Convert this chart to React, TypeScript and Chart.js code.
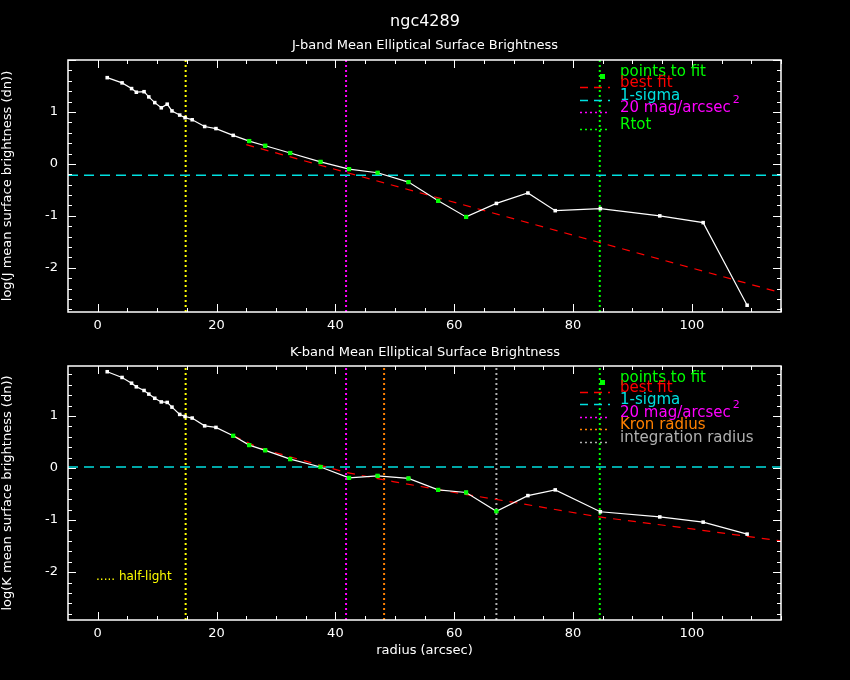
import React, { useEffect, useRef } from "react";
import { Chart, registerables } from "chart.js";
Chart.register(...registerables);

const radii = [1.6,4.1,5.7,6.5,7.8,8.6,9.6,10.7,11.7,12.5,13.8,14.7,15.9,18.0,19.9,22.8,25.5,28.2,32.4,37.5,42.3,47.1,52.3,57.3,62.0,67.1,72.4,77.0,84.6,94.6,101.9,109.3];
const jVals = [1.66,1.56,1.45,1.38,1.39,1.29,1.18,1.08,1.15,1.02,0.94,0.89,0.85,0.72,0.68,0.55,0.44,0.35,0.21,0.04,-0.10,-0.17,-0.35,-0.71,-1.02,-0.76,-0.56,-0.90,-0.86,-1.00,-1.13,-2.72];
const kVals = [1.85,1.74,1.63,1.56,1.49,1.42,1.34,1.27,1.26,1.17,1.03,0.99,0.96,0.81,0.78,0.62,0.44,0.34,0.17,0.02,-0.19,-0.15,-0.20,-0.42,-0.47,-0.83,-0.53,-0.42,-0.84,-0.94,-1.04,-1.27];
const jFitIdx = [16,17,18,19,20,21,22,23,24];
const kFitIdx = [15,16,17,18,19,20,21,22,23,24,25];
const jFitX = [25, 115];
const jFitY = [0.37, -2.48];
const kFitX = [22.8,27.3,37.5,42,49.7,60,70,84.4,100,115];
const kFitY = [0.62,0.38,0.05,-0.09,-0.26,-0.47,-0.66,-0.94,-1.17,-1.40];
const jSigma = -0.22;
const kSigma = 0.02;
const halfLight = 14.8;
const mag20 = 41.8;
const rtot = 84.5;
const kron = 48.2;
const integ = 67.1;
const xTicks = [0, 20, 40, 60, 80, 100];
const X_MIN = -5, X_MAX = 115;

const FONT = "'DejaVu Sans', sans-serif";

type Leg = { text: string; color: string; kind: "point" | "dash" | "dot"; y: number; sup?: boolean };

function framePlugin(opts: { title?: string; sub: string; subY: number; legend: Leg[]; legX: number }) {
  return {
    id: "frame",
    afterDraw(chart: any) {
      const ctx = chart.ctx;
      const a = chart.chartArea;
      const xs = chart.scales.x, ys = chart.scales.y;
      ctx.save();
      ctx.strokeStyle = "#fff";
      ctx.lineWidth = 1.5;
      ctx.strokeRect(a.left, a.top, a.right - a.left, a.bottom - a.top);
      ctx.lineWidth = 1;
      ctx.beginPath();
      for (let v = 0; v <= X_MAX; v += 5) {
        const px = Math.round(xs.getPixelForValue(v)) + 0.5;
        const L = v % 20 === 0 ? 8 : 4;
        ctx.moveTo(px, a.bottom); ctx.lineTo(px, a.bottom - L);
        ctx.moveTo(px, a.top); ctx.lineTo(px, a.top + L);
      }
      for (let i = -30; i <= 20; i++) {
        const v = i * 0.2;
        if (v < ys.min || v > ys.max) continue;
        const py = Math.round(ys.getPixelForValue(v)) + 0.5;
        const L = i % 5 === 0 ? 8 : 4;
        ctx.moveTo(a.left, py); ctx.lineTo(a.left + L, py);
        ctx.moveTo(a.right, py); ctx.lineTo(a.right - L, py);
      }
      ctx.stroke();
      ctx.fillStyle = "#fff";
      ctx.textAlign = "center";
      ctx.textBaseline = "middle";
      if (opts.title) { ctx.font = `16px ${FONT}`; ctx.fillText(opts.title, 425, 22); }
      ctx.font = `13px ${FONT}`;
      ctx.fillText(opts.sub, 425, opts.subY);
      ctx.textAlign = "left";
      for (const l of opts.legend) {
        ctx.fillStyle = l.color; ctx.strokeStyle = l.color;
        ctx.font = `15px ${FONT}`;
        ctx.fillText(l.text, opts.legX + 40, l.y);
        const x0 = opts.legX, x1 = opts.legX + 30;
        if (l.kind === "point") { ctx.fillRect(opts.legX + 20, l.y + 2, 5, 5); }
        else {
          ctx.beginPath();
          ctx.lineWidth = 1.5;
          ctx.setLineDash(l.kind === "dash" ? [8, 6] : [2, 3]);
          ctx.moveTo(x0, l.y + 4.5); ctx.lineTo(x1, l.y + 4.5); ctx.stroke();
          ctx.setLineDash([]);
        }
        if (l.sup) {
          const w = ctx.measureText(l.text).width;
          ctx.font = `11px ${FONT}`;
          ctx.fillText("2", opts.legX + 42 + w, l.y - 8);
        }
      }
      ctx.restore();
    },
  };
}

function vline(x: number, color: string, ymin: number, ymax: number) {
  return { type: "line", data: [{ x, y: ymin }, { x, y: ymax }], borderColor: color, borderWidth: 2, borderDash: [2, 3], pointRadius: 0, order: 5 };
}

function buildChart(canvas: HTMLCanvasElement, cfg: any) {
  const main = radii.map((x, i) => ({ x, y: cfg.vals[i] }));
  const green = cfg.fit.map((i: number) => ({ x: radii[i], y: cfg.vals[i] }));
  const datasets: any[] = [
    ...cfg.vlines.map(([x, c]: [number, string]) => vline(x, c, cfg.ymin, cfg.ymax)),
    { type: "line", data: [{ x: X_MIN, y: cfg.sigma }, { x: X_MAX, y: cfg.sigma }], borderColor: "#00e0e0", borderWidth: 1.5, borderDash: [10, 6], pointRadius: 0, order: 4 },
    { type: "line", data: cfg.fx.map((x: number, i: number) => ({ x, y: cfg.fy[i] })), borderColor: "#ff0000", borderWidth: 1.2, borderDash: [8, 7], pointRadius: 0, order: 3 },
    { type: "line", data: main, borderColor: "#fff", borderWidth: 1.2, pointStyle: "rect", pointRadius: 2.5, pointBackgroundColor: "#fff", pointBorderWidth: 0, order: 2 },
    { type: "scatter", data: green, pointStyle: "rect", pointRadius: 3, pointBackgroundColor: "#00ff00", pointBorderWidth: 0, order: 1 },
  ];
  return new Chart(canvas, {
    type: "line",
    data: { datasets },
    plugins: [cfg.plugin],
    options: {
      animation: false, responsive: false, maintainAspectRatio: false,
      layout: { padding: { top: cfg.padTop, right: 69, left: 0, bottom: 0 } },
      plugins: { legend: { display: false }, tooltip: { enabled: false } },
      scales: {
        x: {
          type: "linear", min: X_MIN, max: X_MAX,
          grid: { display: false }, border: { display: false },
          afterBuildTicks: (s: any) => { s.ticks = xTicks.map((v) => ({ value: v })); },
          ticks: { color: "#fff", font: { family: FONT, size: 13 }, padding: -2 },
          title: { display: cfg.showXTitle, text: "radius (arcsec)", color: "#fff", font: { family: FONT, size: 13 }, padding: { top: 4 } },
          afterFit: (s: any) => { s.height = cfg.xH; },
        },
        y: {
          type: "linear", min: cfg.ymin, max: cfg.ymax,
          grid: { display: false }, border: { display: false },
          afterBuildTicks: (s: any) => { s.ticks = [-2, -1, 0, 1].map((v) => ({ value: v })); },
          ticks: { color: "#fff", font: { family: FONT, size: 13 }, padding: 2 },
          title: { display: true, text: cfg.yLabel, color: "#fff", font: { family: FONT, size: 13 }, padding: 0 },
          afterFit: (s: any) => { s.width = 68; },
        },
      },
    } as any,
  } as any);
}

export default function App() {
  const r1 = useRef<HTMLCanvasElement>(null);
  const r2 = useRef<HTMLCanvasElement>(null);
  useEffect(() => {
    document.body.style.margin = "0";
    document.body.style.background = "#000";
    const legTop: Leg[] = [
      { text: "points to fit", color: "#00ff00", kind: "point", y: 72 },
      { text: "best fit", color: "#ff0000", kind: "dash", y: 83 },
      { text: "1-sigma", color: "#00e0e0", kind: "dash", y: 96 },
      { text: "20 mag/arcsec", color: "#ff00ff", kind: "dot", y: 108, sup: true },
      { text: "Rtot", color: "#00ff00", kind: "dot", y: 125 },
    ];
    const legBot: Leg[] = [
      { text: "points to fit", color: "#00ff00", kind: "point", y: 38 },
      { text: "best fit", color: "#ff0000", kind: "dash", y: 48 },
      { text: "1-sigma", color: "#00e0e0", kind: "dash", y: 60 },
      { text: "20 mag/arcsec", color: "#ff00ff", kind: "dot", y: 73, sup: true },
      { text: "Kron radius", color: "#ff8000", kind: "dot", y: 85 },
      { text: "integration radius", color: "#b0b0b0", kind: "dot", y: 98 },
    ];
    const c1 = buildChart(r1.current!, {
      vals: jVals, fit: jFitIdx, fx: jFitX, fy: jFitY, sigma: jSigma, ymin: -2.85, ymax: 2.0,
      vlines: [[halfLight, "#ffff00"], [mag20, "#ff00ff"], [rtot, "#00ff00"]],
      padTop: 60, xH: 28, yLabel: "log(J mean surface brightness (dn))", showXTitle: false,
      plugin: framePlugin({ title: "ngc4289", sub: "J-band Mean Elliptical Surface Brightness", subY: 46, legend: legTop, legX: 580 }),
    });
    const c2 = buildChart(r2.current!, {
      vals: kVals, fit: kFitIdx, fx: kFitX, fy: kFitY, sigma: kSigma, ymin: -2.92, ymax: 1.96,
      vlines: [[halfLight, "#ffff00"], [mag20, "#ff00ff"], [kron, "#ff8000"], [integ, "#b0b0b0"], [rtot, "#00ff00"]],
      padTop: 26, xH: 42, yLabel: "log(K mean surface brightness (dn))", showXTitle: true,
      plugin: framePlugin({ sub: "K-band Mean Elliptical Surface Brightness", subY: 13, legend: legBot, legX: 580 }),
    });
    return () => { c1.destroy(); c2.destroy(); };
  }, []);
  return (
    <div style={{ width: 850, height: 680, background: "#000", position: "relative" }}>
      <canvas ref={r1} width={850} height={340} style={{ position: "absolute", left: 0, top: 0, width: 850, height: 340 }} />
      <canvas ref={r2} width={850} height={322} style={{ position: "absolute", left: 0, top: 340, width: 850, height: 322 }} />
      <div style={{ position: "absolute", left: 96, top: 569, color: "#ff0", font: `12px ${FONT}` }}>..... half-light</div>
    </div>
  );
}
